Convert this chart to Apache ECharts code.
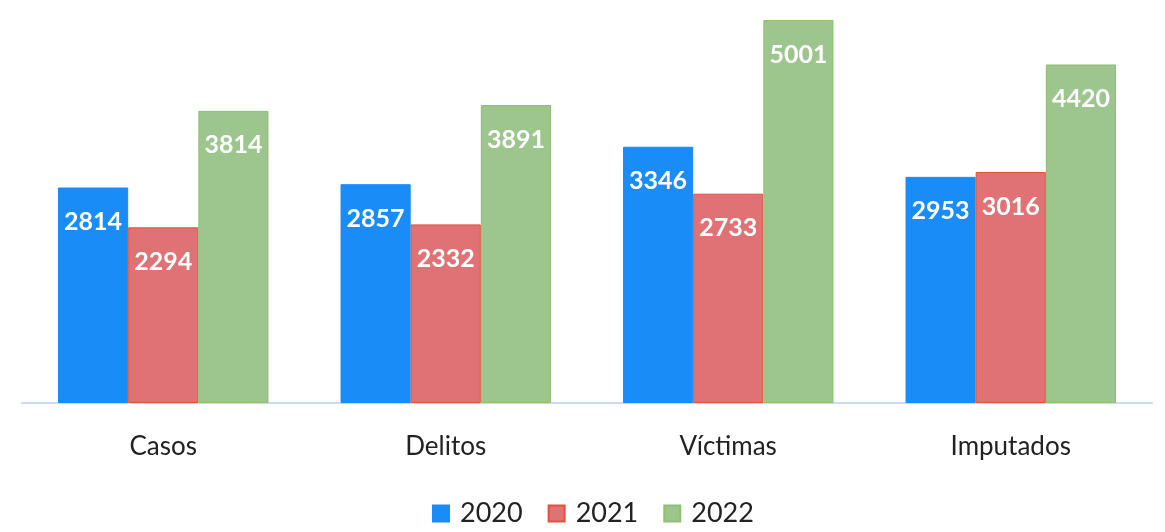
<!DOCTYPE html>
<html>
<head>
<meta charset="utf-8">
<script src="https://cdn.jsdelivr.net/npm/echarts@6/dist/echarts.min.js"></script>
<style>
  html, body { margin: 0; padding: 0; background: #fff; }
  #chart { width: 1165px; height: 532px; }
</style>
</head>
<body>
<div id="chart"></div>
<script>
// datos
const categorias = ["Casos", "Delitos", "Víctimas", "Imputados"];
const anios = ["2020", "2021", "2022"];
const v2020 = [2814, 2857, 3346, 2953];
const v2021 = [2294, 2332, 2733, 3016];
const v2022 = [3814, 3891, 5001, 4420];

const colores = ["#1a8cf8", "#e07174", "#9dc68e"];
const bordes = ["#1a8cf8", "#e2503e", "#8fbf70"];
const fuente = "Lato, 'Open Sans', sans-serif";

let myChart = echarts.init(document.getElementById("chart"));

function serie(nombre, datos, i) {
    return {
        name: nombre,
        type: "bar",
        data: datos,
        barGap: "0%",
        barCategoryGap: "25.5%",
        itemStyle: {
            color: colores[i],
            borderColor: bordes[i],
            borderWidth: 1,
        },
        label: {
            show: true,
            position: "insideTop",
            distance: 22,
            color: "#fff",
            fontFamily: fuente,
            fontWeight: "bold",
            fontSize: 25,
        },
    };
}

let option = {
    animation: false,
    grid: {
        left: 22,
        right: 13,
        top: 20,
        bottom: 129,
    },
    legend: {
        bottom: 0,
        left: 427,
        itemWidth: 16,
        itemHeight: 16,
        itemGap: 25,
        icon: "rect",
        textStyle: {
            color: "#222",
            fontFamily: fuente,
            fontSize: 27,
            padding: [0, 0, 0, 6],
        },
        data: anios,
    },
    xAxis: {
        type: "category",
        data: categorias,
        axisTick: { show: false },
        axisLine: {
            lineStyle: { color: "#c9daf2", width: 2 },
        },
        axisLabel: {
            color: "#222",
            fontFamily: fuente,
            fontSize: 26,
            margin: 31,
        },
    },
    yAxis: {
        type: "value",
        min: 0,
        max: function (v) { return v.max; },
        show: false,
        splitLine: { show: false },
    },
    series: [
        serie(anios[0], v2020, 0),
        serie(anios[1], v2021, 1),
        serie(anios[2], v2022, 2),
    ],
};

myChart.setOption(option);
window.addEventListener("resize", function () {
    myChart.resize();
});
</script>
</body>
</html>
